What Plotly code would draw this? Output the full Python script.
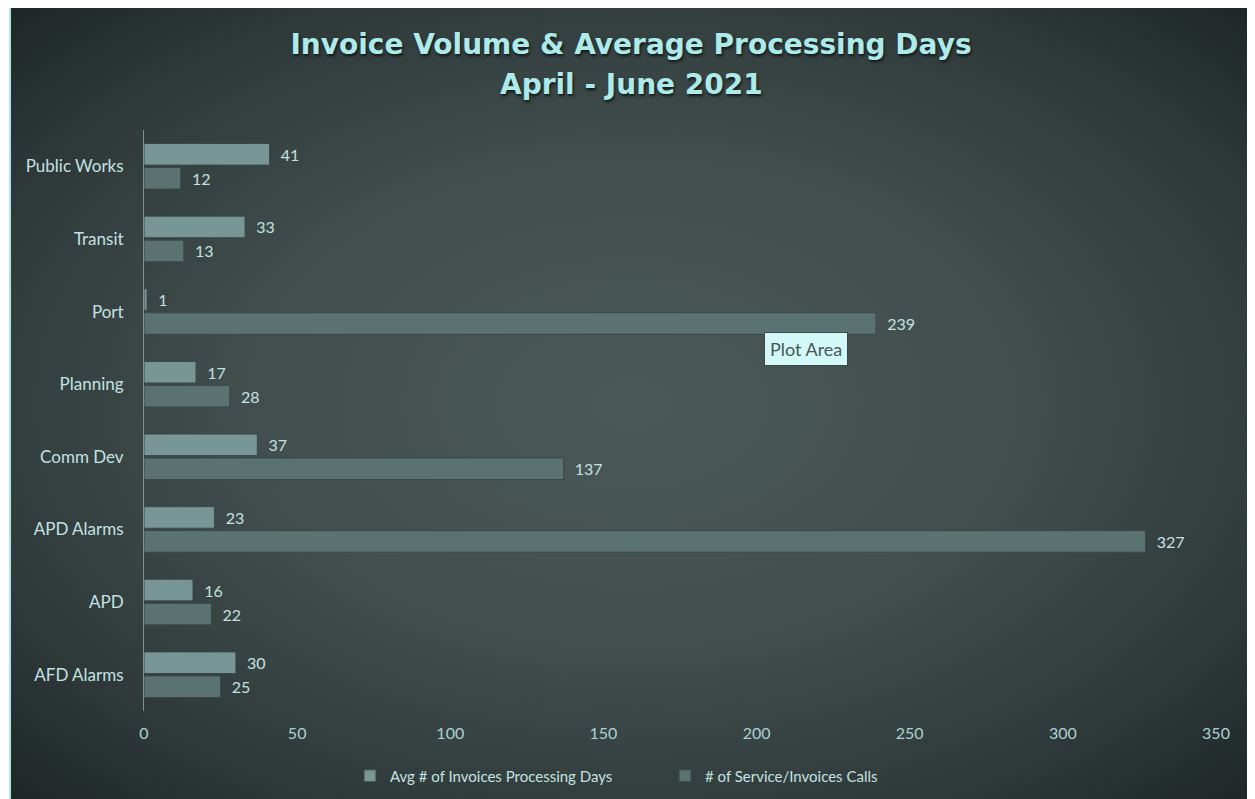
import base64
import plotly.graph_objects as go

# categories listed bottom -> top, as they appear on the chart
departments = ["AFD Alarms", "APD", "APD Alarms", "Comm Dev",
               "Planning", "Port", "Transit", "Public Works"]
avg_processing_days = [30, 16, 23, 37, 17, 1, 33, 41]
service_calls = [25, 22, 327, 137, 28, 239, 13, 12]
x_ticks = [0, 50, 100, 150, 200, 250, 300, 350]

TEXT = "#c3e2e2"
TITLE = "#aeeaea"
LIGHT_BAR = "#789696"
DARK_BAR = "#5a7272"

# page pixels: the page body adds an 8px offset before the figure starts
OFF = 8
W, H = 1255 - OFF, 799 - OFF
L, R, T, B = 144 - OFF, 39, 130 - OFF, 88
pw, ph = W - L - R, H - T - B


def px_x(p):
    return (p - OFF - L) / pw


def px_y(p):
    return (H + OFF - B - p) / ph


svg = (
    "<svg xmlns='http://www.w3.org/2000/svg' width='1243' height='791' "
    "preserveAspectRatio='none'><defs><radialGradient id='g' cx='50%' cy='50%' r='70%'>"
    "<stop offset='0' stop-color='#4b5958'/><stop offset='0.45' stop-color='#414e4d'/>"
    "<stop offset='0.8' stop-color='#2e3838'/><stop offset='1' stop-color='#1f2727'/>"
    "</radialGradient></defs><rect width='100%' height='100%' fill='url(#g)'/></svg>"
)
bg_src = "data:image/svg+xml;base64," + base64.b64encode(svg.encode()).decode()

fig = go.Figure()
fig.add_trace(go.Bar(
    y=departments, x=service_calls, orientation="h",
    name="# of Service/Invoices Calls", legendrank=2,
    marker=dict(color=DARK_BAR, line=dict(color="#3a4848", width=1)),
    text=service_calls, texttemplate="\u00a0\u00a0%{x}", textposition="outside",
    textfont=dict(color=TEXT, size=16, family="Lato"), cliponaxis=False,
))
fig.add_trace(go.Bar(
    y=departments, x=avg_processing_days, orientation="h",
    name="Avg # of Invoices Processing Days", legendrank=1,
    marker=dict(color=LIGHT_BAR, line=dict(color="#3a4848", width=1)),
    text=avg_processing_days, texttemplate="\u00a0\u00a0%{x}", textposition="outside",
    textfont=dict(color=TEXT, size=16, family="Lato"), cliponaxis=False,
))

title_font = dict(family="DejaVu Sans", size=28, color=TITLE, weight="bold",
                  shadow="1px 2px 3px #101616")

fig.update_layout(
    width=W, height=H,
    margin=dict(l=L, r=R, t=T, b=B, autoexpand=False),
    paper_bgcolor="white",
    plot_bgcolor="rgba(0,0,0,0)",
    barmode="group", bargap=0.34, bargroupgap=0.1,
    font=dict(family="Lato", size=16, color=TEXT),
    title=dict(
        text="Invoice Volume & Average Processing Days",
        x=px_x(631), xanchor="center", xref="paper",
        y=1 - (44 - OFF) / H, yanchor="middle",
        font=title_font,
    ),
    legend=dict(
        orientation="h", x=px_x(350), xanchor="left", y=px_y(776), yanchor="middle",
        font=dict(size=15, color=TEXT), bgcolor="rgba(0,0,0,0)",
        entrywidth=270, entrywidthmode="pixels",
    ),
    xaxis=dict(range=[0, 350], tickvals=x_ticks, showgrid=False, zeroline=False,
               showline=False, ticks="", ticklabelstandoff=11,
               tickfont=dict(size=16, color="#a9d3d3")),
    yaxis=dict(showgrid=False, zeroline=False, showline=True, linecolor="#7c9292",
               linewidth=1, ticks="", ticklabelstandoff=16,
               tickfont=dict(size=17, color=TEXT)),
    images=[dict(
        source=bg_src, xref="paper", yref="paper",
        x=px_x(10), y=px_y(8), sizex=px_x(1253) - px_x(10), sizey=px_y(8) - px_y(799),
        xanchor="left", yanchor="top", sizing="stretch", layer="below",
    )],
    shapes=[
        dict(type="line", xref="paper", yref="paper", x0=px_x(10), x1=px_x(10),
             y0=px_y(8), y1=px_y(799), line=dict(color="#a8e8e8", width=2)),
        dict(type="line", xref="paper", yref="paper", x0=px_x(1253), x1=px_x(1253),
             y0=px_y(8), y1=px_y(799), line=dict(color="#a8e8e8", width=2)),
    ],
    annotations=[
        dict(text="April - June 2021", xref="paper", yref="paper",
             x=px_x(631), y=px_y(85), xanchor="center", yanchor="middle",
             showarrow=False, font=title_font),
        dict(text="Plot Area", xref="paper", yref="paper", x=px_x(806), y=px_y(349),
             showarrow=False, font=dict(size=18, color="#4a5656", family="Lato"),
             bgcolor="#d2f8f8", bordercolor="#3c4646", borderwidth=1, borderpad=5),
    ],
)

fig.write_html("out.html")
